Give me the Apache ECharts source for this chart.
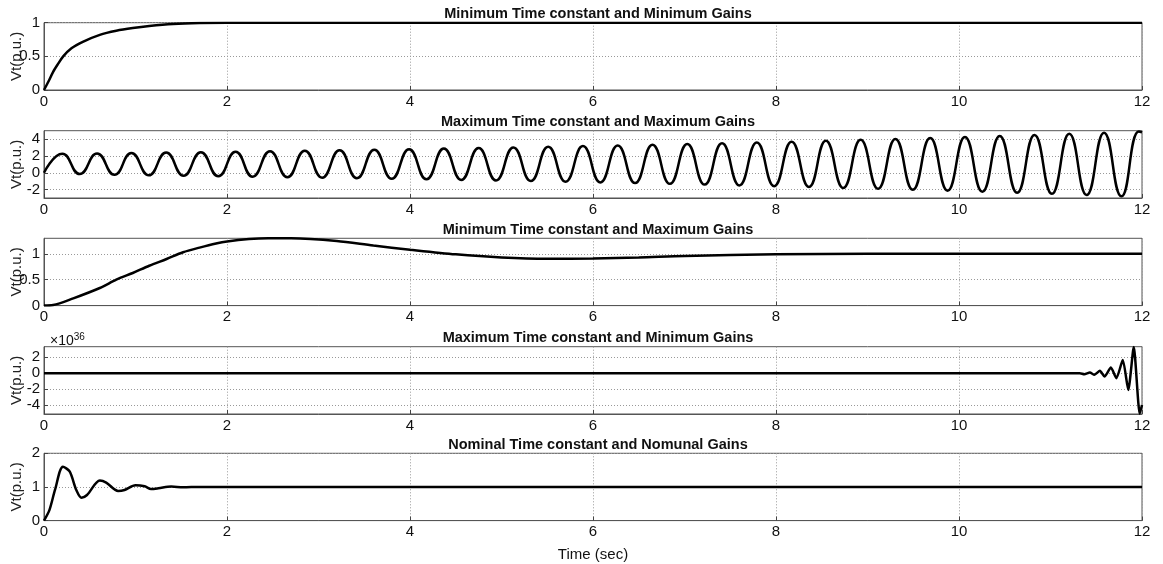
<!DOCTYPE html>
<html>
<head>
<meta charset="utf-8">
<script src="https://cdn.jsdelivr.net/npm/echarts@6/dist/echarts.min.js"></script>
<style>
  html, body { margin: 0; padding: 0; background: #fff; }
  #main { width: 1163px; height: 564px; }
</style>
</head>
<body>
<div id="main"></div>
<script>
// titles of the five subplots
var panelTitles = [
  'Minimum Time constant and Minimum Gains',
  'Maximum Time constant and Maximum Gains',
  'Minimum Time constant and Maximum Gains',
  'Maximum Time constant and Minimum Gains',
  'Nominal Time constant and Nomunal Gains'
];

// panel 1: min T, min gains  [time, Vt]
var minMinData = [
  [0, 0], [0.05, 0.13], [0.1, 0.27], [0.15, 0.38], [0.21, 0.5], [0.3, 0.62],
  [0.43, 0.72], [0.61, 0.82], [0.79, 0.88], [0.97, 0.92], [1.15, 0.95],
  [1.41, 0.98], [1.7, 0.995], [2.0, 1.0], [12, 1.0]
];

// panel 2: max T, max gains (growing oscillation), peaks and troughs
var maxMaxPeaks = [
  [0.20, 2.25], [0.58, 2.30], [0.955, 2.35], [1.335, 2.40], [1.714, 2.45], [2.094, 2.50],
  [2.47, 2.56], [2.85, 2.62], [3.23, 2.68], [3.61, 2.74], [3.99, 2.80], [4.37, 2.87],
  [4.75, 2.94], [5.13, 3.01], [5.51, 3.09], [5.89, 3.17], [6.27, 3.25], [6.65, 3.33],
  [7.03, 3.42], [7.41, 3.51], [7.79, 3.60], [8.17, 3.70], [8.545, 3.80], [8.925, 3.91],
  [9.305, 4.02], [9.685, 4.13], [10.065, 4.25], [10.445, 4.37], [10.825, 4.50],
  [11.205, 4.63], [11.585, 4.76], [11.965, 4.90]
];
var maxMaxTroughs = [
  [0, 0], [0.39, -0.15], [0.77, -0.24], [1.145, -0.30], [1.525, -0.36], [1.905, -0.42],
  [2.28, -0.47], [2.66, -0.53], [3.04, -0.59], [3.42, -0.65], [3.80, -0.71], [4.18, -0.78],
  [4.56, -0.85], [4.94, -0.92], [5.32, -0.99], [5.70, -1.07], [6.08, -1.15], [6.46, -1.23],
  [6.84, -1.32], [7.22, -1.41], [7.60, -1.50], [7.98, -1.59], [8.36, -1.69], [8.735, -1.80],
  [9.115, -1.90], [9.495, -2.01], [9.875, -2.13], [10.255, -2.25], [10.635, -2.37],
  [11.015, -2.50], [11.395, -2.64], [11.775, -2.80], [12, 4.8]
];

// panel 3: min T, max gains
var minMaxData = [
  [0, 0], [0.1, 0.01], [0.32, 0.14], [0.61, 0.34], [0.79, 0.5], [0.97, 0.63],
  [1.15, 0.77], [1.34, 0.9], [1.52, 1.03], [1.7, 1.12], [1.88, 1.2], [2.0, 1.24],
  [2.24, 1.285], [2.45, 1.3], [2.7, 1.3], [3.2, 1.25], [3.6, 1.16], [4.0, 1.08],
  [4.5, 0.99], [5.0, 0.93], [5.5, 0.905], [6.0, 0.91], [6.5, 0.93], [7.0, 0.96],
  [8.0, 0.99], [9.0, 1.0], [12, 1.0]
];

// panel 4: max T, min gains (values in units of 1e36)
var maxMinData = [
  [0, 0], [11.32, 0], [11.37, -0.13], [11.43, 0.08], [11.48, -0.2], [11.54, 0.3],
  [11.59, -0.42], [11.66, 0.7], [11.72, -0.63], [11.79, 1.67], [11.85, -2.1],
  [11.91, 3.3], [11.975, -5.1], [12, -4.0]
];

// panel 5: nominal
var nominalData = [
  [0, 0], [0.06, 0.32], [0.12, 0.91], [0.207, 1.6], [0.28, 1.46], [0.353, 0.91],
  [0.41, 0.68], [0.47, 0.76], [0.61, 1.19], [0.68, 1.13], [0.81, 0.88], [0.88, 0.91],
  [1.0, 1.05], [1.1, 1.02], [1.17, 0.94], [1.25, 0.96], [1.39, 1.01], [1.52, 0.99],
  [1.7, 1.0], [12, 1.0]
];

// y-axis extents and tick values per panel
var yMins = [0, -3, 0, -5.13, 0];
var yMaxs = [1, 5, 1.3, 3.33, 2];
var yTicks = [[0, 0.5, 1], [-2, 0, 2, 4], [0, 0.5, 1], [-4, -2, 0, 2], [0, 1, 2]];

var maxMaxData = maxMaxPeaks.concat(maxMaxTroughs).sort(function (a, b) { return a[0] - b[0]; });
var seriesData = [minMinData, maxMaxData, minMaxData, maxMinData, nominalData];

var gridTops = [22.7, 130.7, 238.3, 346.7, 453.3];
var gridH = 67.3;
var fontFam = '"Liberation Sans", Arial, sans-serif';

var myChart = echarts.init(document.getElementById('main'));

var grids = [], xAxes = [], yAxes = [], series = [], titles = [];
for (var i = 0; i < 5; i++) {
  grids.push({
    left: 44, right: 21, top: gridTops[i], height: gridH,
    outerBoundsMode: 'none', containLabel: false,
    show: true, borderColor: '#555', borderWidth: 1, backgroundColor: '#fff'
  });
  titles.push({
    text: panelTitles[i], left: 593, top: gridTops[i] - 21, textAlign: 'center',
    textStyle: { fontFamily: fontFam, fontSize: 14.5, fontWeight: 'bold', color: '#111' }
  });
  xAxes.push({
    type: 'value', gridIndex: i, min: 0, max: 12, interval: 2,
    axisLine: { show: true, onZero: false, lineStyle: { color: '#555' } },
    axisTick: { show: true, inside: true, length: 4, lineStyle: { color: '#444' } },
    axisLabel: { fontFamily: fontFam, fontSize: 15, color: '#111', margin: 4 },
    splitLine: { show: true, lineStyle: { color: '#999', type: [1, 2], width: 1 } },
    name: i === 4 ? 'Time (sec)' : '',
    nameLocation: 'middle', nameGap: 27, nameMoveOverlap: false,
    nameTextStyle: { fontFamily: fontFam, fontSize: 15, color: '#111' }
  });
  yAxes.push({
    type: 'value', gridIndex: i, min: yMins[i], max: yMaxs[i],
    axisLine: { show: true, lineStyle: { color: '#555' } },
    axisTick: { show: true, inside: true, length: 4, customValues: yTicks[i], lineStyle: { color: '#444' } },
    axisLabel: { fontFamily: fontFam, fontSize: 15, color: '#111', margin: 4, customValues: yTicks[i] },
    splitLine: { show: true, lineStyle: { color: '#999', type: [1, 2], width: 1 } },
    name: 'Vt(p.u.)', nameLocation: 'middle', nameRotate: 90, nameGap: 20, nameMoveOverlap: false,
    nameTextStyle: { fontFamily: fontFam, fontSize: 15, color: '#222' }
  });
  series.push({
    type: 'line', xAxisIndex: i, yAxisIndex: i,
    data: seriesData[i], showSymbol: false, symbol: 'none',
    smooth: i === 1 ? 0.5 : (i === 3 ? 0.2 : 0.3),
    lineStyle: { color: '#000', width: 2.5 },
    animation: false
  });
}

// exponent label for panel 4
titles.push({
  text: '{a|\u00d710}{b|36}', left: 45, top: 327,
  textStyle: {
    fontWeight: 'normal',
    rich: {
      a: { fontFamily: fontFam, fontSize: 14, fontWeight: 'normal', color: '#111' },
      b: { fontFamily: fontFam, fontSize: 10, fontWeight: 'normal', color: '#111', verticalAlign: 'top', padding: [0, 0, 9, 0] }
    }
  }
});

var option = {
  backgroundColor: '#fff',
  animation: false,
  title: titles,
  grid: grids,
  xAxis: xAxes,
  yAxis: yAxes,
  series: series
};
myChart.setOption(option);
</script>
</body>
</html>
